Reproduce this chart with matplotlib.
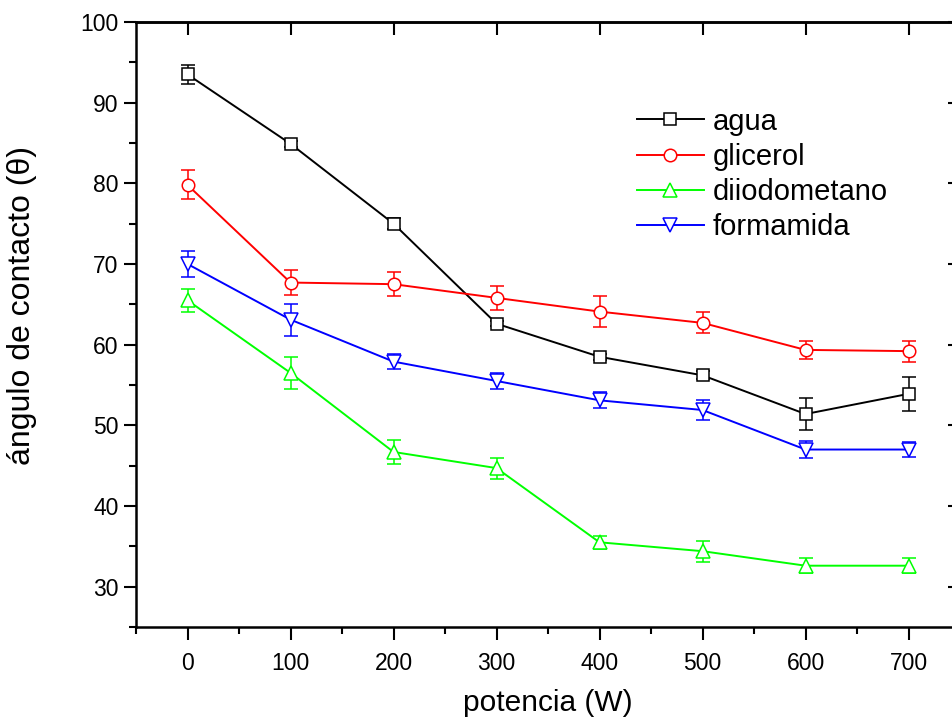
import matplotlib
matplotlib.use('Agg')
import matplotlib.pyplot as plt
from matplotlib.ticker import MultipleLocator

plt.rcParams['font.family'] = ['Liberation Sans', 'DejaVu Sans']

potencia = [0, 100, 200, 300, 400, 500, 600, 700]

agua = [93.5, 84.9, 75.0, 62.6, 58.5, 56.2, 51.4, 53.9]
agua_err = [1.2, 0.4, 0.7, 0.3, 0.4, 0.5, 2.0, 2.1]

glicerol = [79.8, 67.7, 67.5, 65.8, 64.1, 62.7, 59.35, 59.2]
glicerol_err = [1.8, 1.5, 1.5, 1.5, 1.9, 1.3, 1.15, 1.3]

diiodometano = [65.5, 56.5, 46.7, 44.7, 35.5, 34.4, 32.6, 32.6]
diiodometano_err = [1.4, 2.0, 1.5, 1.3, 0.8, 1.3, 0.9, 0.9]

formamida = [70.0, 63.1, 57.9, 55.5, 53.1, 51.9, 47.0, 47.0]
formamida_err = [1.6, 2.0, 0.9, 1.0, 1.0, 1.2, 1.0, 0.9]

series = [
    ('agua', agua, agua_err, '#000000', 's'),
    ('glicerol', glicerol, glicerol_err, '#ff0000', 'o'),
    ('diiodometano', diiodometano, diiodometano_err, '#00ff00', '^'),
    ('formamida', formamida, formamida_err, '#0000ff', 'v'),
]

fig = plt.figure(figsize=(9.52, 7.17), dpi=100)
ax = fig.add_axes([136 / 952, 90 / 717, 824 / 952, 605 / 717])

for name, y, err, col, mk in series:
    ax.errorbar(potencia, y, yerr=err, fmt='none', ecolor=col, elinewidth=1.1,
                capsize=5, capthick=1.1, zorder=2)
    ax.plot(potencia, y, '-', color=col, lw=1.4, marker=mk, markersize=10 if mk in '^v' else 9,
            markerfacecolor='white', markeredgecolor=col, markeredgewidth=1.1,
            label=name, zorder=3)

ax.set_xlim(-50, 750)
ax.set_ylim(25, 100)
ax.xaxis.set_major_locator(MultipleLocator(100))
ax.xaxis.set_minor_locator(MultipleLocator(50))
ax.yaxis.set_major_locator(MultipleLocator(10))
ax.yaxis.set_minor_locator(MultipleLocator(5))
ax.tick_params(which='major', direction='out', length=9, width=1.5, labelsize=16.5)
ax.tick_params(axis='x', which='major', pad=9)
ax.tick_params(which='minor', direction='out', length=5, width=1.5)
ax.tick_params(top=False, right=False)
for s in ax.spines.values():
    s.set_linewidth(1.8)

top = ax.secondary_xaxis('top')
top.xaxis.set_major_locator(MultipleLocator(100))
top.tick_params(direction='in', length=9, width=1.5, labeltop=False)
top.spines['top'].set_linewidth(1.8)
right = ax.secondary_yaxis('right')
right.yaxis.set_major_locator(MultipleLocator(10))
right.tick_params(direction='in', length=9, width=1.5, labelright=False)
right.spines['right'].set_linewidth(1.8)

ax.set_xlabel('potencia (W)', fontsize=21.5, labelpad=10)
ax.set_ylabel('ángulo de contacto (θ)', fontsize=23)
ax.yaxis.set_label_coords(-0.12, 0.532)

ax.legend(loc='upper left', bbox_to_anchor=(622 / 952, 1 - 93 / 717),
          bbox_transform=fig.transFigure, frameon=False, fontsize=21,
          handlelength=2.3, handletextpad=0.3, labelspacing=0.25, borderpad=0)

fig.savefig('out.png', dpi=100)
